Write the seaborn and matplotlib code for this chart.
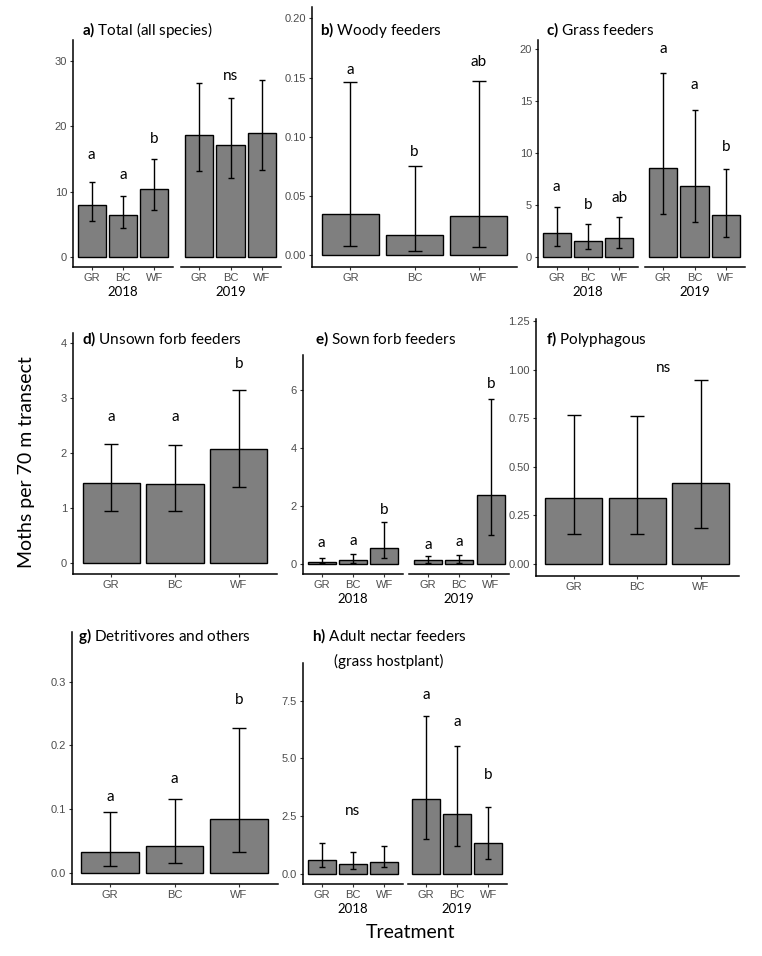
import matplotlib
matplotlib.use("Agg")
import matplotlib.pyplot as plt
import seaborn as sns
import numpy as np
import pandas as pd

# ---------------- data ----------------
treatments = ["GR", "BC", "WF"]

# a) Total (all species)
a18_mean = [7.9, 6.4, 10.4]
a18_lo = [5.5, 4.4, 7.2]
a18_hi = [11.4, 9.4, 15.0]
a18_let = ["a", "a", "b"]
a18_let_y = [15.6, 12.6, 18.1]
a19_mean = [18.7, 17.2, 19.0]
a19_lo = [13.2, 12.1, 13.3]
a19_hi = [26.6, 24.3, 27.1]
a19_let = ["ns"]
a19_let_x = [1]
a19_let_y = [27.7]
a_ticks = [0, 10, 20, 30]
a_ticklabels = ["0", "10", "20", "30"]

# b) Woody feeders
b_mean = [0.035, 0.017, 0.033]
b_lo = [0.008, 0.004, 0.007]
b_hi = [0.146, 0.075, 0.147]
b_let = ["a", "b", "ab"]
b_let_y = [0.156, 0.087, 0.163]
b_ticks = [0.0, 0.05, 0.10, 0.15, 0.20]
b_ticklabels = ["0.00", "0.05", "0.10", "0.15", "0.20"]

# c) Grass feeders
c18_mean = [2.27, 1.5, 1.8]
c18_lo = [1.06, 0.74, 0.84]
c18_hi = [4.83, 3.17, 3.84]
c18_let = ["a", "b", "ab"]
c18_let_y = [6.75, 5.0, 5.7]
c19_mean = [8.58, 6.82, 4.06]
c19_lo = [4.16, 3.33, 1.92]
c19_hi = [17.7, 14.09, 8.42]
c19_let = ["a", "a", "b"]
c19_let_y = [20.0, 16.5, 10.6]
c_ticks = [0, 5, 10, 15, 20]
c_ticklabels = ["0", "5", "10", "15", "20"]

# d) Unsown forb feeders
d_mean = [1.45, 1.44, 2.08]
d_lo = [0.95, 0.95, 1.38]
d_hi = [2.17, 2.15, 3.15]
d_let = ["a", "a", "b"]
d_let_y = [2.65, 2.65, 3.63]
d_ticks = [0, 1, 2, 3, 4]
d_ticklabels = ["0", "1", "2", "3", "4"]

# e) Sown forb feeders
e18_mean = [0.07, 0.13, 0.55]
e18_lo = [0.01, 0.03, 0.21]
e18_hi = [0.18, 0.33, 1.45]
e18_let = ["a", "a", "b"]
e18_let_y = [0.7, 0.78, 1.87]
e19_mean = [0.11, 0.11, 2.38]
e19_lo = [0.03, 0.03, 0.99]
e19_hi = [0.27, 0.29, 5.69]
e19_let = ["a", "a", "b"]
e19_let_y = [0.65, 0.75, 6.2]
e_ticks = [0, 2, 4, 6]
e_ticklabels = ["0", "2", "4", "6"]

# f) Polyphagous
f_mean = [0.34, 0.34, 0.417]
f_lo = [0.151, 0.151, 0.184]
f_hi = [0.766, 0.763, 0.946]
f_let = ["ns"]
f_let_x = [1.42]
f_let_y = [1.006]
f_ticks = [0.0, 0.25, 0.50, 0.75, 1.00, 1.25]
f_ticklabels = ["0.00", "0.25", "0.50", "0.75", "1.00", "1.25"]

# g) Detritivores and others
g_mean = [0.032, 0.042, 0.085]
g_lo = [0.011, 0.015, 0.032]
g_hi = [0.095, 0.116, 0.228]
g_let = ["a", "a", "b"]
g_let_y = [0.119, 0.147, 0.271]
g_ticks = [0.0, 0.1, 0.2, 0.3]
g_ticklabels = ["0.0", "0.1", "0.2", "0.3"]

# h) Adult nectar feeders (grass hostplant)
h18_mean = [0.59, 0.42, 0.52]
h18_lo = [0.28, 0.2, 0.28]
h18_hi = [1.34, 0.94, 1.2]
h18_let = ["ns"]
h18_let_x = [1]
h18_let_y = [2.72]
h19_mean = [3.24, 2.6, 1.34]
h19_lo = [1.52, 1.21, 0.64]
h19_hi = [6.85, 5.55, 2.9]
h19_let = ["a", "a", "b"]
h19_let_y = [7.76, 6.56, 4.28]
h_ticks = [0.0, 2.5, 5.0, 7.5]
h_ticklabels = ["0.0", "2.5", "5.0", "7.5"]

years = ["2018", "2019"]

# ---------------- style ----------------
sns.set_theme(style="ticks")
plt.rcParams['font.family'] = ['Liberation Sans', 'DejaVu Sans']
plt.rcParams['mathtext.fontset'] = 'custom'
plt.rcParams['mathtext.rm'] = 'Lato'
plt.rcParams['mathtext.bf'] = 'Lato:bold'

BAR = "#7f7f7f"
ANN = ['Lato', 'DejaVu Sans']

W, H = 762, 956
fig = plt.figure(figsize=(W / 100, H / 100), dpi=100)
fig.patch.set_facecolor("white")


def add_ax(l, r, t, b):
    return fig.add_axes([l / W, 1 - b / H, (r - l) / W, (b - t) / H])


def panel(box, means, lo, hi, ylim, yaxis=True, ticks=None, ticklabels=None,
          letters=None, let_y=None, let_x=None, year=None):
    l, r, t, b = box
    ax = add_ax(l, r, t, b)
    df = pd.DataFrame({"Treatment": treatments, "Mean": means})
    sns.barplot(data=df, x="Treatment", y="Mean", color=BAR, saturation=1,
                edgecolor="black", linewidth=1.0, width=0.9, errorbar=None, ax=ax)
    m = np.array(means)
    spacing = (r - l) / 3.2
    cap = 0.11 * spacing * 0.72
    ax.errorbar(np.arange(3), m, yerr=[m - np.array(lo), np.array(hi) - m],
                fmt="none", ecolor="black", elinewidth=1.0, capsize=cap,
                capthick=1.0, zorder=5)
    ax.set_xlim(-0.6, 2.6)
    ax.set_ylim(*ylim)
    ax.set_xlabel("")
    ax.set_ylabel("")
    for s in ["top", "right"]:
        ax.spines[s].set_visible(False)
    ax.spines["bottom"].set_linewidth(1.1)
    ax.spines["left"].set_linewidth(1.1)
    ax.spines["bottom"].set_color("black")
    ax.spines["left"].set_color("black")
    ax.tick_params(axis="both", length=2.5, width=0.8, color="#333333",
                   labelsize=8, labelcolor="#4d4d4d", pad=1.8)
    if yaxis:
        ax.set_yticks(ticks)
        ax.set_yticklabels(ticklabels)
    else:
        ax.spines["left"].set_visible(False)
        ax.set_yticks([])
    if letters is not None:
        xs = let_x if let_x is not None else range(len(letters))
        for x, y, s in zip(xs, let_y, letters):
            ax.text(x, y, s, ha="center", va="center", fontfamily=ANN,
                    fontsize=11, color="black", clip_on=False)
    if year is not None:
        ax.annotate(year, xy=(0.5, 0), xycoords="axes fraction",
                    xytext=(0, -25 * 0.72), textcoords="offset points",
                    ha="center", va="center", fontfamily=ANN, fontsize=9.5,
                    color="black")
    ax.set_facecolor("white")
    return ax


def title(x, y, s):
    fig.text(x / W, 1 - y / H, s, ha="left", va="center", fontfamily=ANN,
             fontsize=11, color="black")


# a
panel((73, 173, 40, 267), a18_mean, a18_lo, a18_hi, (-1.53, 33.2), True,
      a_ticks, a_ticklabels, a18_let, a18_let_y, None, years[0])
panel((180.5, 280.5, 40, 267), a19_mean, a19_lo, a19_hi, (-1.53, 33.2), False,
      letters=a19_let, let_y=a19_let_y, let_x=a19_let_x, year=years[1])
title(82, 30, r"$\mathbf{a)}$ Total (all species)")

# b
panel((312, 517, 7, 267), b_mean, b_lo, b_hi, (-0.0099, 0.2095), True,
      b_ticks, b_ticklabels, b_let, b_let_y)
title(320, 30, r"$\mathbf{b)}$ Woody feeders")

# c
panel((538, 638, 40, 267), c18_mean, c18_lo, c18_hi, (-0.96, 20.84), True,
      c_ticks, c_ticklabels, c18_let, c18_let_y, None, years[0])
panel((644.5, 744.5, 40, 267), c19_mean, c19_lo, c19_hi, (-0.96, 20.84), False,
      letters=c19_let, let_y=c19_let_y, year=years[1])
title(546, 30, r"$\mathbf{c)}$ Grass feeders")

# d
panel((73, 277, 333, 574), d_mean, d_lo, d_hi, (-0.206, 4.19), True,
      d_ticks, d_ticklabels, d_let, d_let_y)
title(82.5, 339, r"$\mathbf{d)}$ Unsown forb feeders")

# e
panel((303, 403, 355, 574), e18_mean, e18_lo, e18_hi, (-0.36, 7.22), True,
      e_ticks, e_ticklabels, e18_let, e18_let_y, None, years[0])
panel((409, 509.5, 355, 574), e19_mean, e19_lo, e19_hi, (-0.36, 7.22), False,
      letters=e19_let, let_y=e19_let_y, year=years[1])
title(315, 339, r"$\mathbf{e)}$ Sown forb feeders")

# f
panel((536, 738.5, 319, 576), f_mean, f_lo, f_hi, (-0.063, 1.26), True,
      f_ticks, f_ticklabels, f_let, f_let_y, f_let_x)
title(546.5, 339, r"$\mathbf{f)}$ Polyphagous")

# g
panel((71.5, 277.5, 632, 884), g_mean, g_lo, g_hi, (-0.0177, 0.378), True,
      g_ticks, g_ticklabels, g_let, g_let_y)
title(77.5, 636, r"$\mathbf{g)}$ Detritivores and others")

# h
panel((303, 403, 663, 884), h18_mean, h18_lo, h18_hi, (-0.446, 9.13), True,
      h_ticks, h_ticklabels, h18_let, h18_let_y, h18_let_x, years[0])
panel((407.5, 507, 663, 884), h19_mean, h19_lo, h19_hi, (-0.446, 9.13), False,
      letters=h19_let, let_y=h19_let_y, year=years[1])
title(312.5, 636, r"$\mathbf{h)}$ Adult nectar feeders")
title(334, 661, "(grass hostplant)")

# shared axis titles
fig.text(27 / W, 1 - 462 / H, "Moths per 70 m transect", rotation=90,
         ha="center", va="center", fontfamily=ANN, fontsize=14, color="black")
fig.text(410 / W, 1 - 932 / H, "Treatment", ha="center", va="center",
         fontfamily=ANN, fontsize=14, color="black")

fig.savefig("out.png", dpi=100, facecolor="white")
